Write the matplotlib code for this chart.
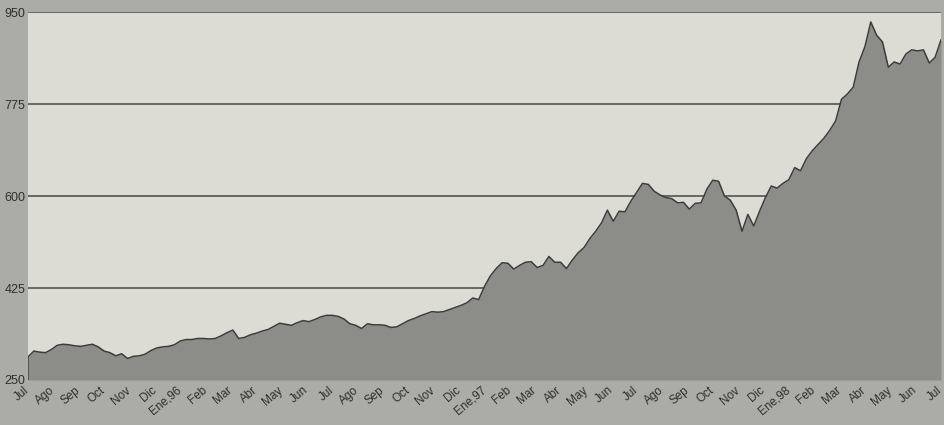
import numpy as np
import matplotlib.pyplot as plt
from matplotlib.transforms import ScaledTranslation

# Indice semanal, jul-95 a jul-98 (157 semanas)
valores = [
    294, 305, 303, 302, 308, 316, 318, 317, 315, 314,
    316, 318, 313, 305, 302, 296, 300, 291, 295, 296,
    299, 306, 311, 313, 314, 317, 324, 327, 327, 329,
    329, 328, 329, 334, 340, 345, 329, 331, 336, 339,
    343, 346, 352, 358, 356, 354, 359, 363, 361, 365,
    370, 373, 373, 371, 366, 357, 354, 348, 357, 355,
    355, 354, 350, 351, 357, 363, 367, 372, 376, 380,
    379, 380, 384, 388, 392, 397, 406, 403, 428, 448,
    462, 473, 472, 461, 468, 474, 475, 464, 468, 485,
    474, 474, 462, 478, 492, 502, 519, 533, 549, 573,
    552, 571, 570, 590, 607, 624, 622, 609, 602, 597,
    595, 587, 588, 575, 586, 587, 613, 630, 628, 600,
    592, 573, 533, 565, 543, 571, 597, 619, 615, 624,
    631, 654, 648, 671, 686, 698, 710, 725, 743, 784,
    794, 807, 855, 884, 931, 906, 893, 845, 855, 851,
    870, 878, 876, 878, 853, 864, 897,
]

meses = ['Jul', 'Ago', 'Sep', 'Oct', 'Nov', 'Dic', 'Ene,96',
         'Feb', 'Mar', 'Abr', 'May', 'Jun',
         'Jul', 'Ago', 'Sep', 'Oct', 'Nov', 'Dic', 'Ene,97',
         'Feb', 'Mar', 'Abr', 'May', 'Jun',
         'Jul', 'Ago', 'Sep', 'Oct', 'Nov', 'Dic', 'Ene,98',
         'Feb', 'Mar', 'Abr', 'May', 'Jun', 'Jul']

niveles = [250, 425, 600, 775, 950]

# semanas -> meses
x = np.arange(len(valores)) * 36 / (len(valores) - 1)

plt.rcParams['font.family'] = ['Liberation Sans', 'DejaVu Sans']

fig = plt.figure(figsize=(9.44, 4.25), dpi=100, facecolor='#acaca6')
ax = fig.add_axes([28 / 944, 45 / 425, 913 / 944, 368 / 425])
ax.set_facecolor('#dcdcd5')

for n in niveles[1:]:
    ax.axhline(n, color='#5e5e5a', linewidth=1.3, zorder=1)

ax.fill_between(x, 250, valores, color='#8c8c88', linewidth=0, zorder=2)
ax.plot(x, valores, color='#3c3c3a', linewidth=1.1, zorder=3)
ax.plot([0, 0], [250, valores[0]], color='#3c3c3a', linewidth=1.1, zorder=3)

ax.set_xlim(0, 36)
ax.set_ylim(250, 950)
ax.set_yticks(niveles)
ax.set_yticklabels([str(n) for n in niveles], fontsize=9, color='#2e2e2c')
ax.set_xticks(range(len(meses)))
ax.set_xticklabels(meses, fontsize=8.5, color='#2e2e2c', rotation=40,
                   ha='right', va='top', rotation_mode='anchor')
ax.tick_params(axis='both', length=0)
ax.tick_params(axis='y', pad=2)
ax.tick_params(axis='x', pad=3)

# etiquetas del eje X un poco a la izquierda, como en el original
desplaza = ScaledTranslation(-4 / 100, 0, fig.dpi_scale_trans)
for lab in ax.get_xticklabels():
    lab.set_transform(lab.get_transform() + desplaza)

for s in ax.spines.values():
    s.set_visible(False)

plt.savefig('out.png', dpi=100, facecolor=fig.get_facecolor())
plt.close()
